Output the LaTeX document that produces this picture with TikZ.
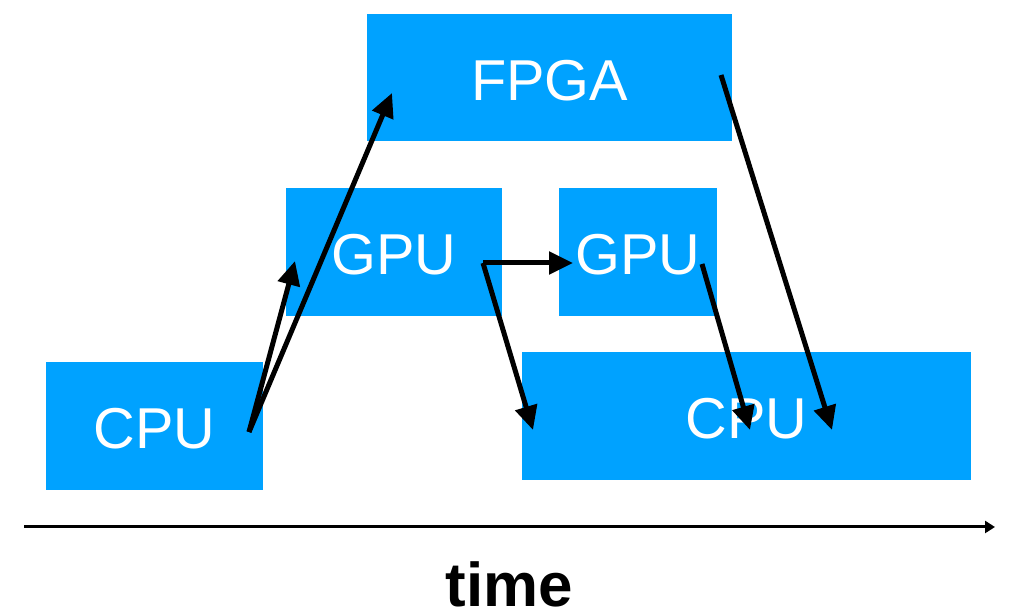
\documentclass[tikz,border=0pt]{standalone}
\usepackage{fontspec}
\setmainfont{Liberation Sans}
\usetikzlibrary{arrows.meta}
\definecolor{procblue}{RGB}{0,162,255}

\begin{document}
\begin{tikzpicture}[x=0.025cm, y=0.025cm,
		unit/.style={rectangle, fill=procblue, text=white, inner sep=0pt, minimum height=3.2cm, text height=1.13cm, text depth=0pt, font=\fontsize{41}{49}\selectfont},
		flow/.style={-{Triangle[length=0.6cm, width=0.55cm]}, line width=0.125cm}]
				\useasboundingbox (0,0) rectangle (1012,616);
				\node[unit, minimum width=5.425cm] (CPUa)at(154.5, 190) {CPU};
				\node[unit, minimum width=5.4cm] (GPUa)at(394, 364) {GPU};
				\node[unit, minimum width=9.125cm, minimum height=3.175cm] (FPGA)at(549.5, 538.5) {FPGA};
				\node[unit, minimum width=3.95cm] (GPUb)at(638, 364) {GPU};
				\node[unit, minimum width=11.225cm] (CPUb)at(746.5, 200) {CPU};
				\coordinate (CPUaout)at(249, 184);
				\coordinate (GPUain)at(295, 355);
				\coordinate (FPGAin)at(392, 523);
				\coordinate (GPUaout)at(483, 353);
				\coordinate (GPUbin)at(573, 353);
				\coordinate (GPUbout)at(702, 352);
				\coordinate (FPGAout)at(721, 541);
				\coordinate (CPUbinA)at(533, 186);
				\coordinate (CPUbinB)at(750, 186);
				\coordinate (CPUbinC)at(832, 186);
				\draw[flow] (CPUaout) -- (GPUain);
				\draw[flow] (CPUaout) -- (FPGAin);
				\draw[flow] (GPUaout) -- (GPUbin);
				\draw[flow] (GPUaout) -- (CPUbinA);
				\draw[flow] (GPUbout) -- (CPUbinB);
				\draw[flow] (FPGAout) -- (CPUbinC);
				\coordinate (T0)at(24, 89);
				\coordinate (T1)at(995, 89);
				\draw[-{Triangle[length=0.25cm, width=0.3cm]}, line width=0.075cm] (T0) -- (T1);
				\node[inner sep=0pt, font=\fontsize{44}{53}\selectfont\bfseries] (time)at(509, 32) {time};
			\end{tikzpicture}
\end{document}
